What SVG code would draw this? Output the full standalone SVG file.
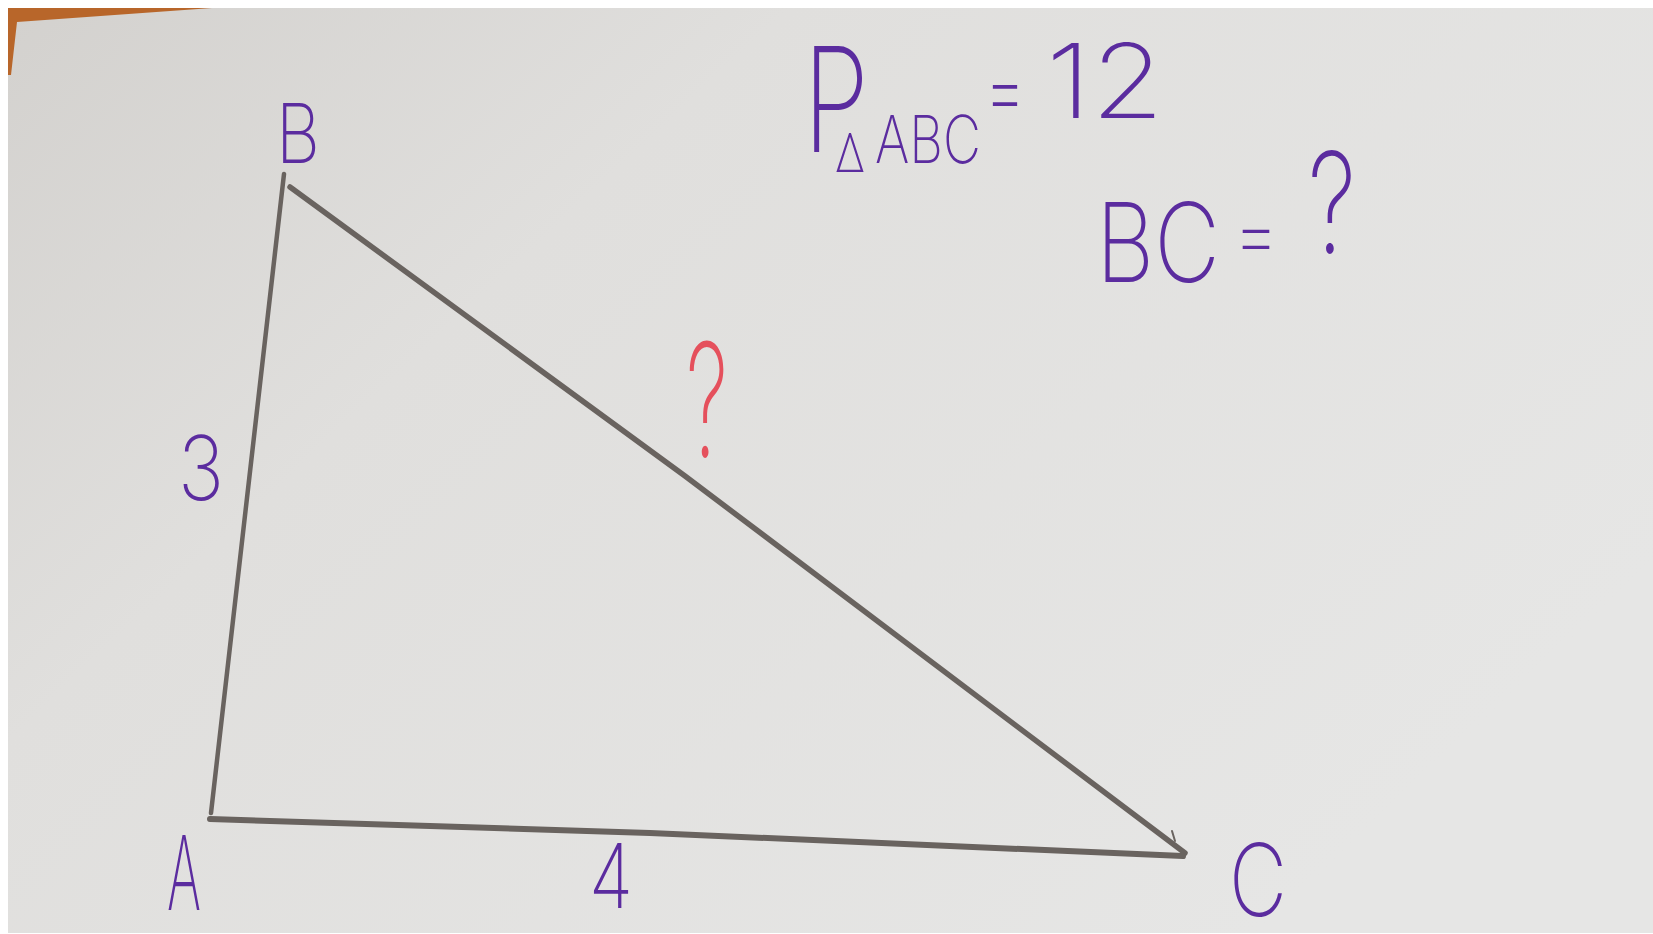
<svg xmlns="http://www.w3.org/2000/svg" width="1653" height="934" viewBox="0 0 1653 934">
<defs>
<linearGradient id="paper" x1="0" y1="0" x2="1" y2="0.6">
<stop offset="0" stop-color="#d3d1ce"/>
<stop offset="0.35" stop-color="#e0dfdd"/>
<stop offset="1" stop-color="#e6e6e5"/>
</linearGradient>
<style>
.ink{fill:#5b2c9f;font-family:Inter,"Open Sans","DejaVu Sans",sans-serif;font-weight:200}
.red{fill:#e5505c;font-family:Inter,"Open Sans","DejaVu Sans",sans-serif;font-weight:200}
.side{fill:none;stroke:#69635f;stroke-linecap:round;stroke-linejoin:round}
</style>
</defs>
<rect x="0" y="0" width="1653" height="934" fill="#ffffff"/>
<rect x="8" y="8" width="1645" height="925" fill="url(#paper)"/>
<polygon points="8,8 212,8 17,22 11,75 8,75" fill="#b8662a"/>

<g id="connectors">
<path id="AB" class="side" stroke-width="4.5" d="M284,174 L211,813"/>
<path id="BC" class="side" stroke-width="5.5" d="M290,187 L685,476 L1185,853"/>
<path id="AC" class="side" stroke-width="6" d="M210,819 L650,833 L1183,856"/>
<path class="side" stroke-width="2" d="M1172,831 L1175,841"/>
</g>

<g id="vertex-B"><text class="ink" x="276" y="163" font-size="82" textLength="44" lengthAdjust="spacingAndGlyphs">B</text></g>
<g id="vertex-A"><text class="ink" x="167" y="910" font-size="103" textLength="34" lengthAdjust="spacingAndGlyphs">A</text></g>
<g id="vertex-C"><text class="ink" x="1229" y="916" font-size="100" textLength="58" lengthAdjust="spacingAndGlyphs">C</text></g>
<g id="label-AB"><text class="ink" x="178" y="500" font-size="89" textLength="46" lengthAdjust="spacingAndGlyphs">3</text></g>
<g id="label-AC"><text class="ink" x="589" y="908" font-size="89" textLength="44" lengthAdjust="spacingAndGlyphs">4</text></g>
<g id="label-BC"><text class="red" x="686" y="457" font-size="158" textLength="42" lengthAdjust="spacingAndGlyphs">?</text></g>

<g id="perimeter">
<text class="ink" x="803" y="152" font-size="146" textLength="66" lengthAdjust="spacingAndGlyphs">P</text>
<text class="ink" x="835" y="172" font-size="54" textLength="30" lengthAdjust="spacingAndGlyphs">Δ</text>
<text class="ink" x="875" y="163" font-size="66" textLength="106" lengthAdjust="spacingAndGlyphs">ABC</text>
<text class="ink" x="984" y="121" font-size="90" textLength="42" lengthAdjust="spacingAndGlyphs">=</text>
<text class="ink" x="1046" y="118" font-size="103" textLength="118" lengthAdjust="spacingAndGlyphs">12</text>
</g>

<g id="question">
<text class="ink" x="1096" y="282" font-size="110" textLength="124" lengthAdjust="spacingAndGlyphs">BC</text>
<text class="ink" x="1233" y="262" font-size="80" textLength="46" lengthAdjust="spacingAndGlyphs">=</text>
<text class="ink" x="1308" y="253" font-size="140" textLength="48" lengthAdjust="spacingAndGlyphs">?</text>
</g>
</svg>
